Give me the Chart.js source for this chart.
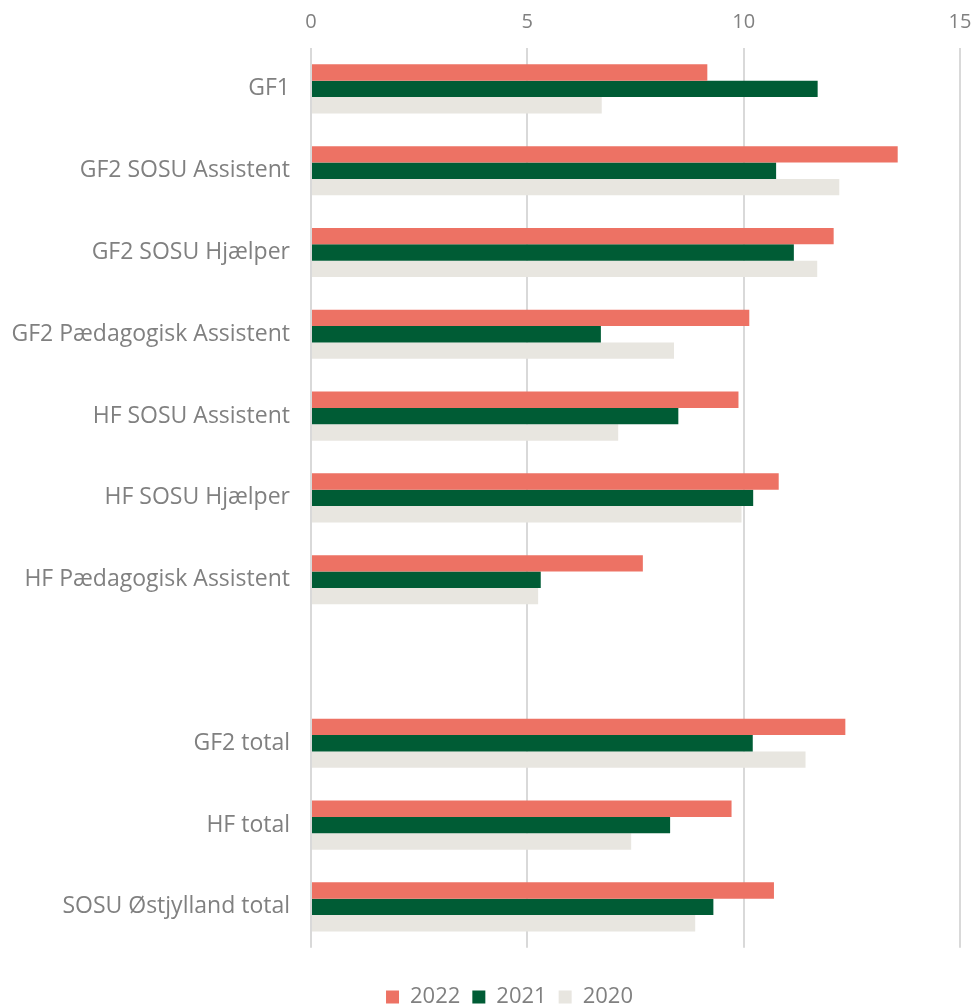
<!DOCTYPE html>
<html>
<head>
<meta charset="utf-8">
<script src="https://cdn.jsdelivr.net/npm/chart.js@4/dist/chart.umd.min.js"></script>
<style>
    html, body { margin: 0; padding: 0; background: #fff; overflow: hidden; }
    #wrap { width: 971px; height: 1008px; overflow: hidden; }
</style>
</head>
<body>
<div id="wrap"><canvas id="chart" width="971" height="1018"></canvas></div>
<script>
    var categories = [
        'GF1',
        'GF2 SOSU Assistent',
        'GF2 SOSU Hjælper',
        'GF2 Pædagogisk Assistent',
        'HF SOSU Assistent',
        'HF SOSU Hjælper',
        'HF Pædagogisk Assistent',
        '',
        'GF2 total',
        'HF total',
        'SOSU Østjylland total'
    ];
    var values2022 = [9.16, 13.56, 12.08, 10.13, 9.88, 10.81, 7.67, null, 12.35, 9.72, 10.70];
    var values2021 = [11.71, 10.75, 11.16, 6.70, 8.49, 10.22, 5.31, null, 10.21, 8.30, 9.30];
    var values2020 = [6.72, 12.21, 11.70, 8.39, 7.10, 9.95, 5.25, null, 11.43, 7.40, 8.88];
    var xTicks = [0, 5, 10, 15];

    var textGrey = '#808080';
    var fontFamily = '"Open Sans", "DejaVu Sans", sans-serif';

    // the legend in the original sits a bit right of the canvas centre
    var legendShift = {
        id: 'legendShift',
        afterLayout: function (chart) {
            if (!chart.legend) return;
            chart.legend.left += 24;
            chart.legend.right += 24;
        }
    };

    new Chart(document.getElementById('chart').getContext('2d'), {
        type: 'bar',
        data: {
            labels: categories,
            datasets: [
                { label: '2022', data: values2022, backgroundColor: '#ED7264' },
                { label: '2021', data: values2021, backgroundColor: '#005C35' },
                { label: '2020', data: values2020, backgroundColor: '#E8E6E0' }
            ]
        },
        options: {
            indexAxis: 'y',
            responsive: false,
            animation: false,
            layout: { padding: { top: 8, right: 0, bottom: 0, left: 0 } },
            datasets: {
                bar: { categoryPercentage: 0.6, barPercentage: 1.0, borderWidth: 0 }
            },
            scales: {
                x: {
                    position: 'top',
                    min: 0,
                    max: 15,
                    afterBuildTicks: function (scale) {
                        scale.ticks = xTicks.map(function (v) { return { value: v }; });
                    },
                    afterFit: function (scale) {
                        scale.height = 40;
                        scale.paddingLeft = 0;
                        scale.paddingRight = 11;
                    },
                    grid: { color: '#d9d9d9', lineWidth: 2, drawTicks: false },
                    border: { display: false },
                    ticks: {
                        color: textGrey,
                        padding: 14,
                        font: { family: fontFamily, size: 20 }
                    }
                },
                y: {
                    afterFit: function (scale) { scale.width = 311; },
                    grid: { display: false, drawTicks: false },
                    border: { display: false },
                    ticks: {
                        color: textGrey,
                        padding: 21,
                        autoSkip: false,
                        font: { family: fontFamily, size: 23 }
                    }
                }
            },
            plugins: {
                tooltip: { enabled: false },
                legend: {
                    position: 'bottom',
                    title: {
                        display: true,
                        text: ' ',
                        font: { size: 1 },
                        padding: { top: 25, bottom: 0 }
                    },
                    labels: {
                        color: textGrey,
                        boxWidth: 13,
                        boxHeight: 13,
                        padding: 12,
                        font: { family: fontFamily, size: 22 }
                    }
                }
            }
        },
        plugins: [legendShift]
    });
</script>
</body>
</html>
